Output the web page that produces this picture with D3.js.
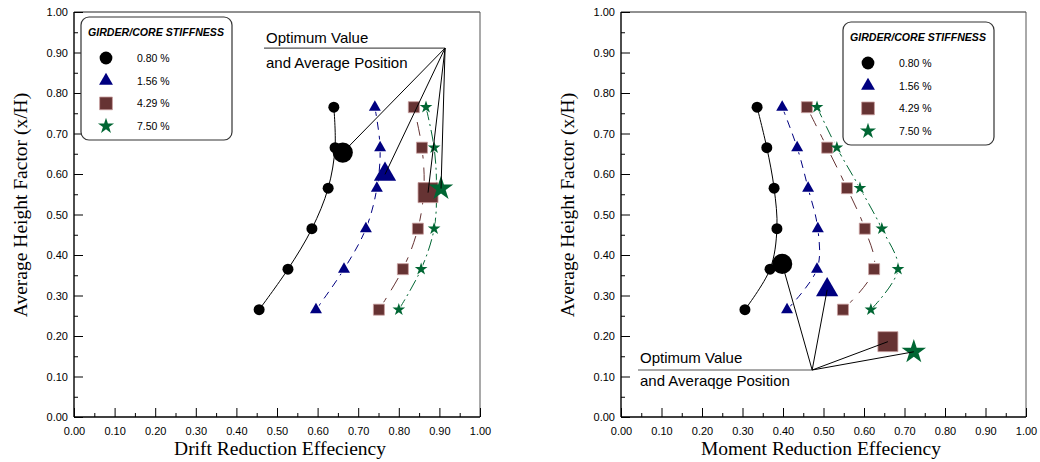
<!DOCTYPE html>
<html><head><meta charset="utf-8">
<script src="https://cdn.jsdelivr.net/npm/d3@7"></script>
<style>
body{margin:0;background:#fff;}
svg{display:block;}
</style></head>
<body>
<svg id="chart" width="1040" height="462"></svg>
<script>
// ---------------- data ----------------
const seriesNames = ["0.80 %", "1.56 %", "4.29 %", "7.50 %"];
const legendTitle = "GIRDER/CORE STIFFNESS";
const majorTicks = [0, 0.1, 0.2, 0.3, 0.4, 0.5, 0.6, 0.7, 0.8, 0.9, 1.0];
const minorTicks = [0.05, 0.15, 0.25, 0.35, 0.45, 0.55, 0.65, 0.75, 0.85, 0.95];
const heights = [0.265, 0.365, 0.465, 0.565, 0.665, 0.765];

// Drift reduction efficiency (left panel)
const drift080 = [0.456, 0.527, 0.586, 0.626, 0.643, 0.640];
const drift156 = [0.596, 0.665, 0.719, 0.746, 0.754, 0.741];
const drift429 = [0.751, 0.810, 0.847, 0.862, 0.857, 0.837];
const drift750 = [0.800, 0.855, 0.887, 0.893, 0.887, 0.867];
const driftOptX = [0.662, 0.766, 0.872, 0.904];
const driftOptY = [0.653, 0.599, 0.554, 0.564];

// Moment reduction efficiency (right panel)
const moment080 = [0.306, 0.368, 0.385, 0.378, 0.360, 0.336];
const moment156 = [0.410, 0.484, 0.486, 0.462, 0.435, 0.398];
const moment429 = [0.548, 0.625, 0.602, 0.558, 0.509, 0.459];
const moment750 = [0.617, 0.684, 0.644, 0.590, 0.533, 0.484];
const momentOptX = [0.398, 0.509, 0.659, 0.723];
const momentOptY = [0.378, 0.314, 0.186, 0.161];

const annoLeft = ["Optimum Value", "and Average Position"];
const annoRight = ["Optimum Value", "and Averaqge Position"];
const xTitles = ["Drift Reduction Effeciency", "Moment Reduction Effeciency"];
const yTitle = "Average Height Factor (x/H)";

// ---------------- styles ----------------
const colors = ["#000000", "#000080", "#663333", "#006633"];
const strokes = ["none", "none", "#c9a0a0", "none"];
const symbols = [d3.symbolCircle, d3.symbolTriangle, d3.symbolSquare, d3.symbolStar];
const smallSize = [95, 62, 121, 50];
const bigSize = [320, 215, 400, 185];
const dashes = [null, "8,6", "14,9", "12,4,2,4"];
const sansFont = "'Liberation Sans', Arial, sans-serif";
const serifFont = "'Liberation Serif', 'Times New Roman', serif";

const svg = d3.select("#chart");

function drawPanel(cfg) {
  const x = d3.scaleLinear().domain([0, 1]).range([cfg.x0, cfg.x1]);
  const y = d3.scaleLinear().domain([0, 1]).range([417, 12]);
  const g = svg.append("g");

  // frame
  g.append("line").attr("x1", x(0)).attr("x2", x(1)).attr("y1", y(1)).attr("y2", y(1))
    .attr("stroke", "#222").attr("stroke-width", 1);
  g.append("line").attr("x1", x(1)).attr("x2", x(1)).attr("y1", y(1)).attr("y2", y(0))
    .attr("stroke", "#555").attr("stroke-width", 1);

  // axes
  const fmt = d3.format(".2f");
  const ax = g.append("g").attr("transform", `translate(0,${y(0)})`)
    .call(d3.axisBottom(x).tickValues(majorTicks).tickSize(-9).tickPadding(10).tickFormat(fmt));
  const axm = g.append("g").attr("transform", `translate(0,${y(0)})`)
    .call(d3.axisBottom(x).tickValues(minorTicks).tickSize(-4).tickFormat(""));
  const ay = g.append("g").attr("transform", `translate(${x(0)},0)`)
    .call(d3.axisLeft(y).tickValues(majorTicks).tickSize(-9).tickPadding(6).tickFormat(fmt));
  const aym = g.append("g").attr("transform", `translate(${x(0)},0)`)
    .call(d3.axisLeft(y).tickValues(minorTicks).tickSize(-4).tickFormat(""));
  [ax, axm, ay, aym].forEach(a => {
    a.select(".domain").remove();
    a.selectAll("line").attr("stroke", "#000").attr("stroke-width", 1);
    a.selectAll("text").attr("font-family", sansFont).attr("font-size", 11).attr("fill", "#000");
  });
  g.append("line").attr("x1", x(0)).attr("x2", x(1)).attr("y1", y(0)).attr("y2", y(0))
    .attr("stroke", "#000").attr("stroke-width", 1.4);
  g.append("line").attr("x1", x(0)).attr("x2", x(0)).attr("y1", y(1)).attr("y2", y(0))
    .attr("stroke", "#000").attr("stroke-width", 1.4);

  // titles
  g.append("text").attr("x", cfg.xTitleX).attr("y", 455)
    .attr("text-anchor", "middle").attr("font-family", serifFont).attr("font-size", 19.5)
    .text(cfg.xTitle);
  g.append("text").attr("transform", `translate(${cfg.yTitleX},205) rotate(-90)`)
    .attr("text-anchor", "middle").attr("font-family", serifFont).attr("font-size", 19.5)
    .text(yTitle);

  // series lines
  const line = d3.line().x(d => x(d[0])).y(d => y(d[1])).curve(d3.curveCatmullRom.alpha(0.5));
  cfg.series.forEach((vals, i) => {
    const pts = vals.map((v, k) => [v, heights[k]]);
    g.append("path").attr("d", line(pts)).attr("fill", "none")
      .attr("stroke", colors[i]).attr("stroke-width", 1)
      .attr("stroke-dasharray", dashes[i]);
  });
  // halos (gaps around markers) for dashed series
  cfg.series.forEach((vals, i) => {
    if (i === 0) return;
    g.selectAll(null).data(vals).enter().append("path")
      .attr("d", d3.symbol().type(symbols[i]).size(smallSize[i] * 1.8))
      .attr("transform", (d, k) => `translate(${x(d)},${y(heights[k])})`)
      .attr("fill", "#fff");
  });
  // small markers
  cfg.series.forEach((vals, i) => {
    g.selectAll(null).data(vals).enter().append("path")
      .attr("d", d3.symbol().type(symbols[i]).size(smallSize[i]))
      .attr("transform", (d, k) => `translate(${x(d)},${y(heights[k])})`)
      .attr("fill", colors[i]).attr("stroke", strokes[i]).attr("stroke-width", 0.8);
  });
  // big optimum markers
  cfg.optX.forEach((v, i) => {
    g.append("path")
      .attr("d", d3.symbol().type(symbols[i]).size(bigSize[i])())
      .attr("transform", `translate(${x(v)},${y(cfg.optY[i])})`)
      .attr("fill", colors[i]).attr("stroke", strokes[i]).attr("stroke-width", 0.8);
  });

  // annotation
  const a = cfg.anno;
  g.append("line").attr("x1", x(a.lx)).attr("x2", x(a.ax)).attr("y1", y(a.ay)).attr("y2", y(a.ay))
    .attr("stroke", "#555").attr("stroke-width", 1.2);
  cfg.optX.forEach((v, i) => {
    g.append("line").attr("x1", x(a.ax)).attr("y1", y(a.ay))
      .attr("x2", x(v)).attr("y2", y(cfg.optY[i]))
      .attr("stroke", "#000").attr("stroke-width", 1);
  });
  g.append("text").attr("x", x(a.lx) + 2).attr("y", y(a.ay) + a.dy[0])
    .attr("font-family", sansFont).attr("font-size", 15).text(a.text[0]);
  g.append("text").attr("x", x(a.lx) + 2).attr("y", y(a.ay) + a.dy[1])
    .attr("font-family", sansFont).attr("font-size", 15).text(a.text[1]);

  // legend
  const L = cfg.legend;
  const lg = g.append("g").attr("transform", `translate(${L.x},${L.y})`);
  lg.append("rect").attr("width", 151).attr("height", 123).attr("rx", 8).attr("ry", 8)
    .attr("fill", "#fff").attr("stroke", "#333").attr("stroke-width", 1.2);
  lg.append("text").attr("x", 7).attr("y", 19)
    .attr("font-family", sansFont).attr("font-size", 10.5).attr("font-weight", "bold")
    .attr("font-style", "italic").attr("textLength", 136).attr("lengthAdjust", "spacingAndGlyphs")
    .text(legendTitle);
  seriesNames.forEach((name, i) => {
    const yy = 41 + i * 22.7;
    lg.append("path").attr("d", d3.symbol().type(symbols[i]).size(i === 3 ? 80 : smallSize[i] * 1.35)())
      .attr("transform", `translate(25,${yy})`)
      .attr("fill", colors[i]).attr("stroke", strokes[i]).attr("stroke-width", 0.8);
    lg.append("text").attr("x", 56).attr("y", yy + 4)
      .attr("font-family", sansFont).attr("font-size", 10.5).text(name);
  });
}

drawPanel({
  x0: 74, x1: 480, yTitleX: 27, xTitleX: 280,
  series: [drift080, drift156, drift429, drift750],
  optX: driftOptX, optY: driftOptY,
  xTitle: xTitles[0],
  anno: { lx: 0.468, ax: 0.914, ay: 0.911, text: annoLeft, dy: [-5, 20] },
  legend: { x: 81, y: 17 }
});
drawPanel({
  x0: 621, x1: 1026, yTitleX: 574, xTitleX: 821,
  series: [moment080, moment156, moment429, moment750],
  optX: momentOptX, optY: momentOptY,
  xTitle: xTitles[1],
  anno: { lx: 0.042, ax: 0.472, ay: 0.116, text: annoRight, dy: [-7, 16] },
  legend: { x: 843, y: 22 }
});
</script>
</body></html>
